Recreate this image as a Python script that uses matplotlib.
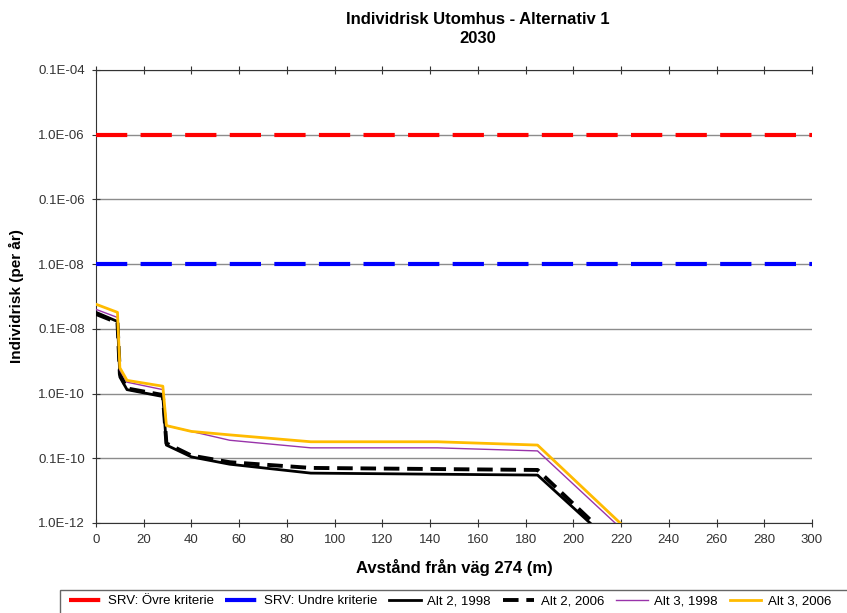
import numpy as np
import matplotlib.pyplot as plt
from matplotlib.patches import Rectangle
from matplotlib.ticker import FixedLocator, FixedFormatter

plt.rcParams['font.family'] = ['Liberation Sans', 'DejaVu Sans']

# distances (m) and risk values
alt2_1998_x = [0, 9, 10, 13, 28, 29.5, 40, 56, 90, 185, 207]
alt2_1998_y = [1.8e-9, 1.3e-9, 1.8e-10, 1.15e-10, 9.0e-11, 1.6e-11, 1.05e-11, 8.1e-12, 5.9e-12, 5.5e-12, 1.0e-12]
alt2_2006_x = [0, 9, 10, 13, 28, 29.5, 40, 56, 90, 185, 208.5]
alt2_2006_y = [1.7e-9, 1.25e-9, 2.0e-10, 1.2e-10, 9.5e-11, 1.7e-11, 1.1e-11, 8.7e-12, 7.1e-12, 6.6e-12, 1.0e-12]
alt3_1998_x = [0, 9, 10, 13, 28, 29.5, 40, 56, 90, 143, 185, 217.5]
alt3_1998_y = [2.0e-9, 1.5e-9, 2.3e-10, 1.5e-10, 1.15e-10, 3.2e-11, 2.6e-11, 1.9e-11, 1.45e-11, 1.45e-11, 1.3e-11, 1.0e-12]
alt3_2006_x = [0, 9, 10, 13, 28, 29.5, 40, 56, 90, 143, 185, 219.6]
alt3_2006_y = [2.4e-9, 1.8e-9, 2.5e-10, 1.6e-10, 1.3e-10, 3.2e-11, 2.6e-11, 2.3e-11, 1.8e-11, 1.8e-11, 1.6e-11, 1.0e-12]
srv_ovre = 1e-6
srv_undre = 1e-8

ytick_vals = [1e-12, 1e-11, 1e-10, 1e-9, 1e-8, 1e-7, 1e-6, 1e-5]
ytick_labels = ['1.0E-12', '0.1E-10', '1.0E-10', '0.1E-08', '1.0E-08', '0.1E-06', '1.0E-06', '0.1E-04']
xticks = np.arange(0, 301, 20)

fig = plt.figure(figsize=(8.47, 6.13), dpi=100)
ax = fig.add_axes([96/847, 1 - 523/613, (812-96)/847, (523-70)/613])

ax.set_yscale('log')
ax.set_xlim(0, 300)
ax.set_ylim(1e-12, 1e-5)

ax.yaxis.set_major_locator(FixedLocator(ytick_vals))
ax.yaxis.set_major_formatter(FixedFormatter(ytick_labels))
ax.yaxis.set_minor_locator(FixedLocator([]))
ax.set_xticks(xticks)
ax.tick_params(axis='both', labelsize=9.5, colors='#333333')
ax.tick_params(axis='x', direction='inout', length=6, top=True, pad=5)
ax.tick_params(axis='y', direction='inout', length=6, pad=5)
ax.grid(axis='y', color='#8c8c8c', lw=1)
ax.spines['right'].set_visible(False)
for s in ['top', 'left', 'bottom']:
    ax.spines[s].set_color('#333333')

x_full = [0, 300]
ax.plot(x_full, [srv_ovre, srv_ovre], color='#ff0000', lw=3, dashes=(7.5, 3.2),
        label='SRV: Övre kriterie', clip_on=False, zorder=3)
ax.plot(x_full, [srv_undre, srv_undre], color='#0000ff', lw=3, dashes=(7.5, 3.2),
        label='SRV: Undre kriterie', clip_on=False, zorder=3)
ax.plot(alt2_1998_x, alt2_1998_y, color='black', lw=2, label='Alt 2, 1998', zorder=4)
ax.plot(alt2_2006_x, alt2_2006_y, color='black', lw=2.8, dashes=(4, 2), label='Alt 2, 2006', zorder=4)
ax.plot(alt3_1998_x, alt3_1998_y, color='#9933aa', lw=1, label='Alt 3, 1998', zorder=4)
ax.plot(alt3_2006_x, alt3_2006_y, color='#ffbb00', lw=2, label='Alt 3, 2006', zorder=4)

ax.set_xlabel('Avstånd från väg 274 (m)', fontsize=12, fontweight='bold', labelpad=9)
ax.set_ylabel('Individrisk (per år)', fontsize=11, fontweight='bold', labelpad=10)

fig.text(478/847, 1 - 29/613, 'Individrisk Utomhus - Alternativ 1\n2030', ha='center', va='center',
         fontsize=12, fontweight='bold', linespacing=1.35)

# legend box runs off the right and bottom edge in the original
fig.patches.append(Rectangle((60/847, -0.05), 1.0, (613-590)/613 + 0.05, transform=fig.transFigure,
                             facecolor='white', edgecolor='#666666', lw=1, zorder=0))
leg = fig.legend(loc='center left', bbox_to_anchor=(64/847, 1 - 601/613), ncol=6, fontsize=9.5,
                 frameon=False, handlelength=2.4, columnspacing=0.9, handletextpad=0.5,
                 borderaxespad=0)

fig.savefig('out.png', dpi=100)
